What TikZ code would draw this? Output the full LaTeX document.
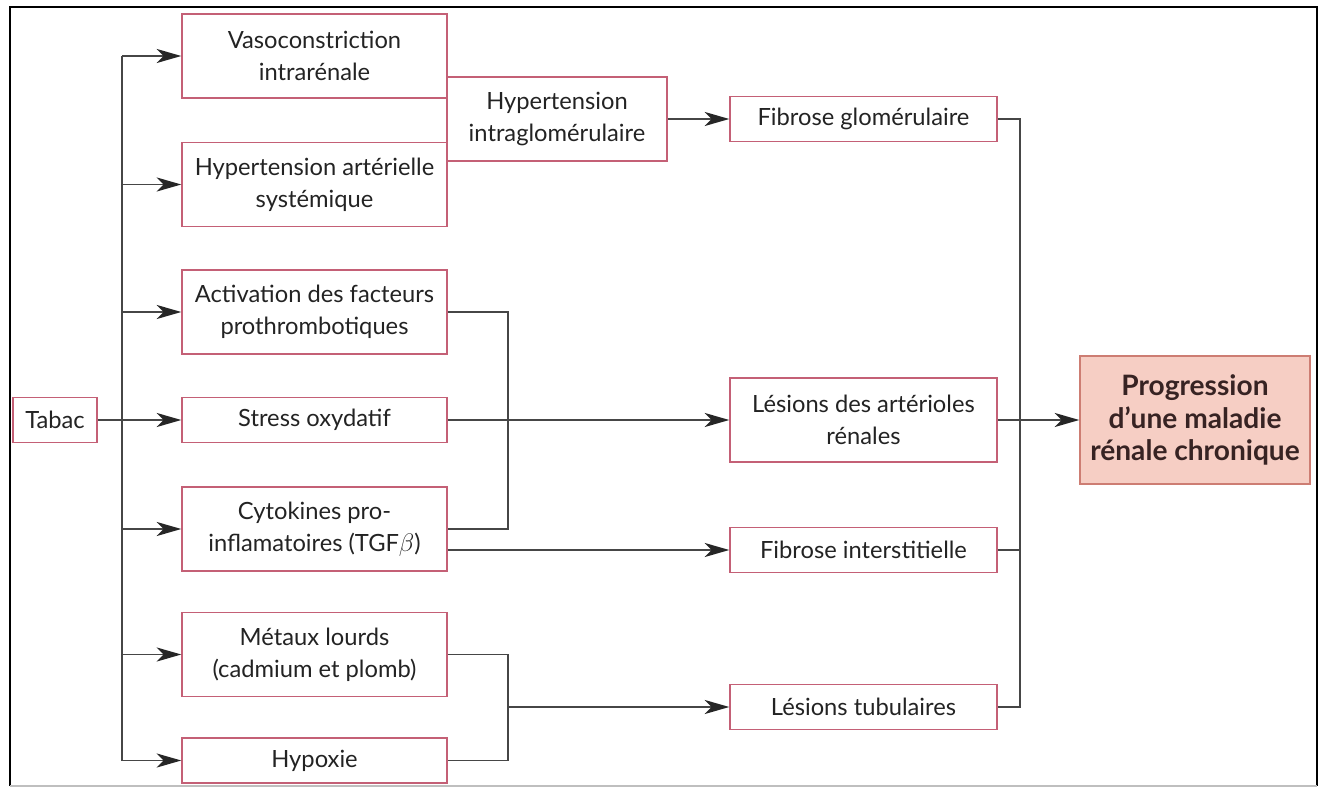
\documentclass[tikz,border=0pt]{standalone}
\usepackage{fontspec}
\setmainfont{Lato}
\usepackage{tikz}
\usetikzlibrary{arrows.meta,calc}

\definecolor{boxred}{RGB}{196,96,118}
\definecolor{progfill}{RGB}{246,206,196}
\definecolor{progline}{RGB}{205,125,115}
\definecolor{progink}{RGB}{55,35,35}
\definecolor{wire}{RGB}{70,70,70}
\definecolor{ink}{RGB}{35,35,35}

\begin{document}
\begin{tikzpicture}[
  >={Stealth[length=14pt,width=8pt,inset=4pt,color=black!85]},
  font=\fontsize{13.5}{18}\selectfont,
  bx/.style={draw=boxred, line width=0.8pt, align=center, inner sep=2pt,
             text=ink, minimum height=1.68cm},
  lbox/.style={bx, minimum width=5.3cm},
  rbox/.style={bx, minimum width=5.34cm},
  flat/.style={minimum height=0.9cm},
  wr/.style={draw=wire, line width=1pt},
]
  \useasboundingbox (0,0) rectangle (26.5,-15.74);
  \draw[line width=1.6pt] (0.2,-15.72) -- (0.2,-0.14) -- (26.34,-0.14) -- (26.34,-15.72);
  \draw[black!25, line width=0.6pt] (0.2,-15.72) -- (26.34,-15.72);

  \node[bx, flat, minimum width=1.68cm] (tabac) at (1.1,-8.4) {Tabac};

  \node[lbox] (vaso) at (6.29,-1.12) {Vasoconstriction\\intrarénale};
  \node[lbox] (hta) at (6.29,-3.69) {Hypertension artérielle\\systémique};
  \node[lbox] (activ) at (6.29,-6.24) {Activation des facteurs\\prothrombotiques};
  \node[lbox, flat] (stress) at (6.29,-8.4) {Stress oxydatif};
  \node[lbox] (cyto) at (6.29,-10.58) {Cytokines pro-\\inflamatoires (TGF$\beta$)};
  \node[lbox] (metaux) at (6.29,-13.09) {Métaux lourds\\(cadmium et plomb)};
  \node[lbox, flat] (hypox) at (6.29,-15.21) {Hypoxie};

  \node[bx, minimum width=4.4cm] (hig) at (11.14,-2.38) {Hypertension\\intraglomérulaire};

  \node[rbox, flat] (fglom) at (17.27,-2.38) {Fibrose glomérulaire};
  \node[rbox] (lart) at (17.27,-8.4) {Lésions des artérioles\\rénales};
  \node[rbox, flat] (finter) at (17.27,-11.0) {Fibrose interstitielle};
  \node[rbox, flat] (ltub) at (17.27,-14.14) {Lésions tubulaires};

  \node[draw=progline, fill=progfill, line width=0.8pt, align=center,
        minimum width=4.6cm, minimum height=2.56cm, text=progink,
        font=\fontsize{16}{18.5}\selectfont\bfseries] (prog) at (23.9,-8.4)
        {Progression\\d’une maladie\\rénale chronique};

  \coordinate (trunk) at (2.44,0);
  \coordinate (jl) at (10.16,0);
  \coordinate (jr) at (20.4,0);

  \draw[wr] (trunk |- vaso.west) -- (trunk |- hypox.west);
  \draw[wr, ->] (tabac.east) -- (stress.west);
  \foreach \n in {vaso,hta,activ,cyto,metaux,hypox}
    \draw[wr, ->] (trunk |- \n.west) -- (\n.west);

  \draw[wr, ->] (hig.east) -- (fglom.west);

  \draw[wr] (activ.east) -| (jl |- cyto.east) -- (cyto.east);
  \draw[wr, ->] (stress.east) -- (lart.west);
  \draw[wr, ->] (cyto.east |- finter.west) -- (finter.west);

  \draw[wr] (metaux.east) -| (jl |- hypox.east) -- (hypox.east);
  \draw[wr, ->] (jl |- ltub.west) -- (ltub.west);

  \draw[wr] (fglom.east) -| (jr |- ltub.east) -- (ltub.east);
  \draw[wr] (finter.east) -- (jr |- finter.east);
  \draw[wr, ->] (lart.east) -- (prog.west);
\end{tikzpicture}
\end{document}
